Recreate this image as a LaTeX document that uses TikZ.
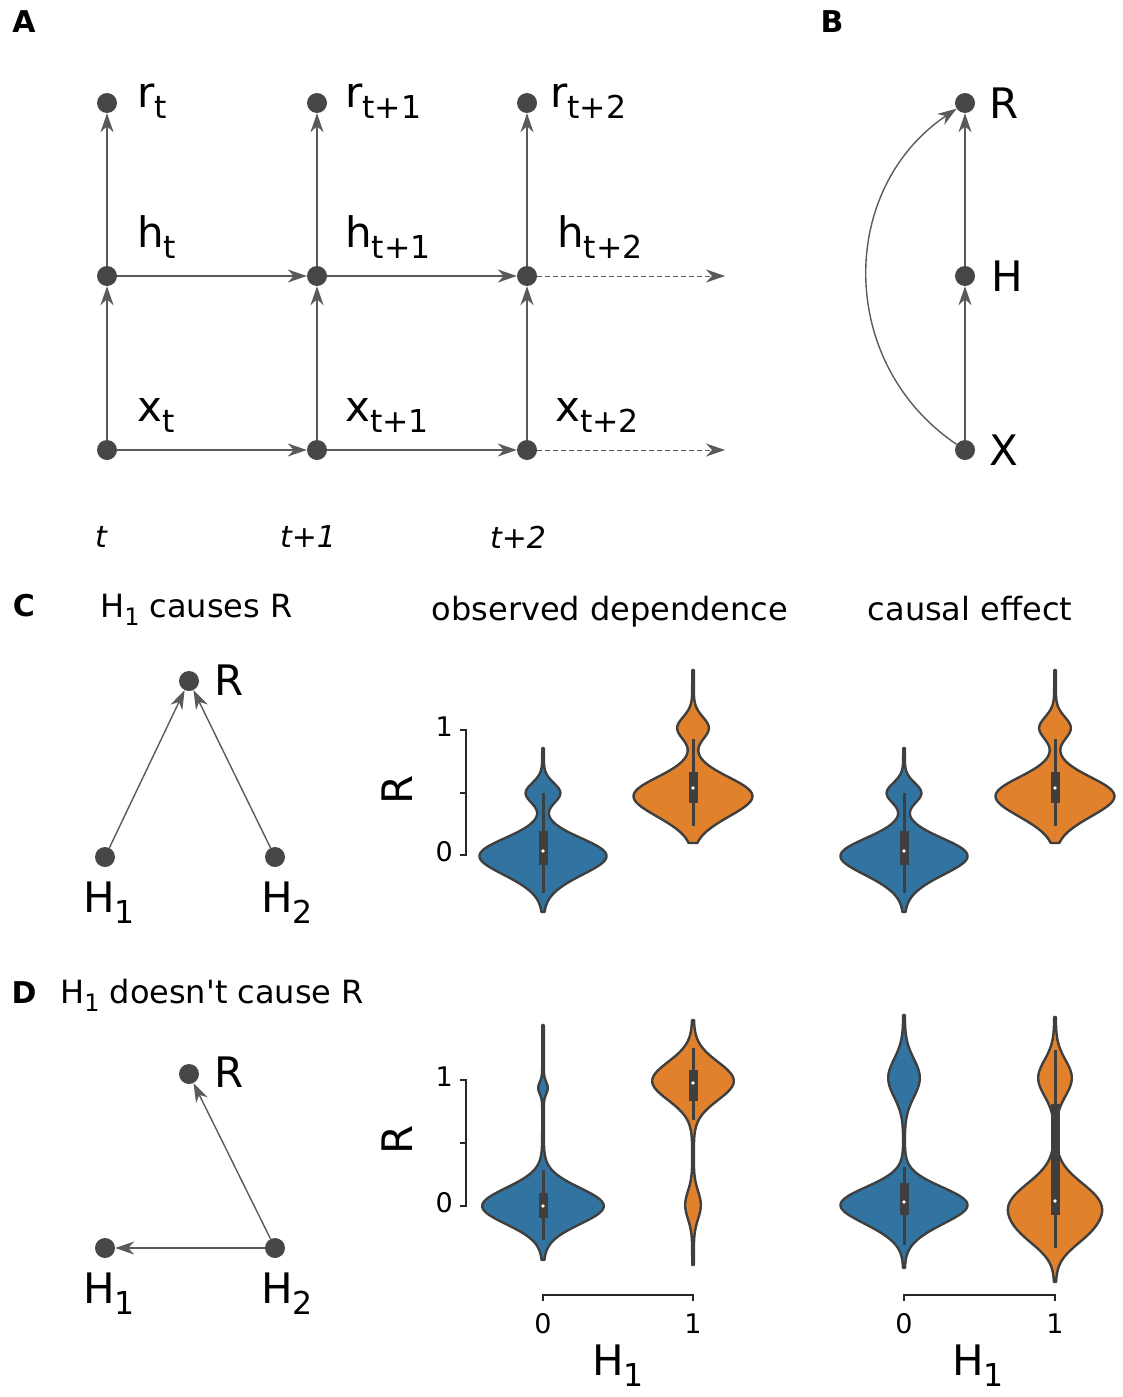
\documentclass[tikz,border=0pt]{standalone}
\usepackage{fontspec}
\setmainfont{DejaVu Sans}
\usepackage{graphicx}
\usetikzlibrary{arrows.meta, positioning}

\definecolor{dotgray}{HTML}{474747}
\definecolor{edgegray}{HTML}{5A5A5A}
\definecolor{vblue}{HTML}{3274A1}
\definecolor{vorange}{HTML}{E1812C}
\definecolor{vgray}{HTML}{3F3F3F}

% lowered, smaller index for the variable names
\newcommand{\lowsub}[1]{\raisebox{-0.28em}{\scalebox{0.75}{#1}}}

% gaussian bump used for the violin outlines
\pgfmathdeclarefunction{bump}{3}{\pgfmathparse{exp(max(-25,-0.5*((#1-#2)/#3)^2))}}

% violin: centre x, fill, top y, bottom y, half width (in \t)
\newcommand{\violin}[5]{%
  \draw[violinline, fill=#2]
    plot[domain=#3:#4, samples=140, variable=\t] ({#1+0.8+(#5)}, \t)
    -- plot[domain=#4:#3, samples=140, variable=\t] ({#1-0.8-(#5)}, \t) -- cycle;}

% inner box: centre x, whisker top, box top, median, box bottom, whisker bottom
\newcommand{\violinbox}[6]{%
  \draw[vgray, line width=3pt] (#1,#2) -- (#1,#6);
  \fill[vgray] ({#1-4.5},#3) rectangle ({#1+4.5},#5);
  \fill[white] (#1,#4) circle (1.8pt);}

\begin{document}
\begin{tikzpicture}[
    x=1pt, y=-1pt,
    dot/.style={circle, fill=dotgray, inner sep=0pt, minimum size=20pt},
    edge/.style={-{Stealth[length=19pt, width=13pt, inset=6pt]}, draw=edgegray, line width=1.4pt},
    dashedge/.style={edge, line width=1pt, dash pattern=on 5pt off 3pt},
    var/.style={font=\fontsize{42}{50}\selectfont, inner sep=0pt},
    panel/.style={font=\fontsize{30}{36}\selectfont\bfseries, inner sep=0pt},
    title/.style={font=\fontsize{32}{38}\selectfont, inner sep=0pt},
    timelbl/.style={font=\fontsize{30}{36}\selectfont\itshape, inner sep=0pt},
    tick/.style={font=\fontsize{27}{32}\selectfont, inner sep=0pt},
    axislbl/.style={font=\fontsize{42}{50}\selectfont, inner sep=0pt},
    axisline/.style={draw=black!85, line width=1.3pt},
    violinline/.style={draw=vgray, line width=2.4pt, line join=round}
]
\useasboundingbox (0,0) rectangle (1122,1397);

% ============ PANEL A ============
\node[panel] (lblA) at (24,22) {A};

\node[dot] (xt)  at (107,450) {};
\node[dot] (ht)  at (107,276) {};
\node[dot] (rt)  at (107,103) {};
\node[dot] (xt1) at (317,450) {};
\node[dot] (ht1) at (317,276) {};
\node[dot] (rt1) at (317,103) {};
\node[dot] (xt2) at (527,450) {};
\node[dot] (ht2) at (527,276) {};
\node[dot] (rt2) at (527,103) {};
\coordinate (xend) at (725,450);
\coordinate (hend) at (725,276);

\node[var, anchor=base west] (rtlbl)  at (137,107) {r\lowsub{t}};
\node[var, anchor=base west] (htlbl)  at (137,247) {h\lowsub{t}};
\node[var, anchor=base west] (xtlbl)  at (137,421) {x\lowsub{t}};
\node[var, anchor=base west] (rt1lbl) at (345,107) {r\lowsub{t+1}};
\node[var, anchor=base west] (ht1lbl) at (345,247) {h\lowsub{t+1}};
\node[var, anchor=base west] (xt1lbl) at (345,421) {x\lowsub{t+1}};
\node[var, anchor=base west] (rt2lbl) at (550,107) {r\lowsub{t+2}};
\node[var, anchor=base west] (ht2lbl) at (557,247) {h\lowsub{t+2}};
\node[var, anchor=base west] (xt2lbl) at (555,421) {x\lowsub{t+2}};

\node[timelbl] (time0) at (101,537) {t};
\node[timelbl] (time1) at (308,537) {t+1};
\node[timelbl] (time2) at (518,537) {t+2};

% vertical links
\draw[edge] (xt) -- (ht);
\draw[edge] (ht) -- (rt);
\draw[edge] (xt1) -- (ht1);
\draw[edge] (ht1) -- (rt1);
\draw[edge] (xt2) -- (ht2);
\draw[edge] (ht2) -- (rt2);
% links in time
\draw[edge] (xt) -- (xt1);
\draw[edge] (xt1) -- (xt2);
\draw[edge] (ht) -- (ht1);
\draw[edge] (ht1) -- (ht2);
\draw[dashedge] (xt2) -- (xend);
\draw[dashedge] (ht2) -- (hend);

% ============ PANEL B ============
\node[panel] (lblB) at (832,22) {B};

\node[dot] (Rb) at (965,103) {};
\node[dot] (Hb) at (965,276) {};
\node[dot] (Xb) at (965,450) {};
\node[var, anchor=west] (Rblbl) at (989,103) {R};
\node[var, anchor=west] (Hblbl) at (991,276) {H};
\node[var, anchor=west] (Xblbl) at (989,450) {X};

\draw[edge] (Xb) -- (Hb);
\draw[edge] (Hb) -- (Rb);
\draw[edge] (Xb) to[bend left=56, looseness=1.1] (Rb);

% ============ PANEL C ============
\node[panel] (lblC) at (24,606) {C};
\node[title, anchor=base west] (titleC) at (100,617) {H\lowsub{1} causes R};

\node[dot] (Rc)  at (189,681) {};
\node[dot] (H1c) at (105,857) {};
\node[dot] (H2c) at (275,857) {};
\node[var, anchor=west] (Rclbl) at (214,680) {R};
\node[var, anchor=base west] (H1clbl) at (83,912) {H\lowsub{1}};
\node[var, anchor=base west] (H2clbl) at (261,912) {H\lowsub{2}};

\draw[edge] (H1c) -- (Rc);
\draw[edge] (H2c) -- (Rc);

\node[title, anchor=base] (obsC)   at (610,620) {observed dependence};
\node[title, anchor=base] (causeC) at (970,620) {causal effect};

% observed dependence
\draw[axisline] (460,730) -- (466,730) -- (466,855) -- (460,855);
\draw[axisline] (460,793) -- (466,793);
\node[tick, anchor=east] (tickC1) at (453,727) {1};
\node[tick, anchor=east] (tickC0) at (453,852) {0};
\node[axislbl, rotate=90] (axisRc) at (397,790) {R};

\violin{543}{vblue}{748}{912}{61*bump(\t,855,17)+8*bump(\t,880,14)+16.5*bump(\t,793,10)}
\violinbox{543}{793}{831}{851}{865}{893}
\violin{693}{vorange}{670}{843}{57*bump(\t,795,18)+7.5*bump(\t,820,14)+15*bump(\t,728,11)}
\violinbox{693}{739}{772}{788}{803}{826}

% causal effect
\violin{904}{vblue}{748}{912}{61*bump(\t,855,17)+8*bump(\t,880,14)+16.5*bump(\t,793,10)}
\violinbox{904}{793}{831}{851}{865}{893}
\violin{1055}{vorange}{670}{843}{57*bump(\t,795,18)+7.5*bump(\t,820,14)+15*bump(\t,728,11)}
\violinbox{1055}{739}{772}{788}{803}{826}

% ============ PANEL D ============
\node[panel] (lblD) at (24,993) {D};
\node[title, anchor=base west] (titleD) at (60,1003) {H\lowsub{1} doesn\textquotesingle t cause R};

\node[dot] (Rd)  at (189,1074) {};
\node[dot] (H1d) at (105,1248) {};
\node[dot] (H2d) at (275,1248) {};
\node[var, anchor=west] (Rdlbl) at (214,1072) {R};
\node[var, anchor=base west] (H1dlbl) at (83,1303) {H\lowsub{1}};
\node[var, anchor=base west] (H2dlbl) at (261,1303) {H\lowsub{2}};

\draw[edge] (H2d) -- (H1d);
\draw[edge] (H2d) -- (Rd);

% observed dependence
\draw[axisline] (460,1080) -- (466,1080) -- (466,1206) -- (460,1206);
\draw[axisline] (460,1143) -- (466,1143);
\node[tick, anchor=east] (tickD1) at (453,1077) {1};
\node[tick, anchor=east] (tickD0) at (453,1203) {0};
\node[axislbl, rotate=90] (axisRd) at (397,1140) {R};

\violin{543}{vblue}{1025}{1260}{60*bump(\t,1206,18)+4*bump(\t,1088,6)}
\violinbox{543}{1170}{1193}{1206}{1218}{1240}
\violin{693}{vorange}{1020}{1265}{40*bump(\t,1081,19)+7*bump(\t,1205,14)}
\violinbox{693}{1048}{1070}{1083}{1101}{1120}

\draw[axisline] (543,1301) -- (543,1295) -- (693,1295) -- (693,1301);
\node[tick] (tickDa0) at (543,1324) {0};
\node[tick] (tickDa1) at (693,1324) {1};
\node[axislbl, anchor=base] (axisH1a) at (618,1375) {H\lowsub{1}};

% causal effect
\violin{904}{vblue}{1015}{1268}{61*bump(\t,1204,17)+8*bump(\t,1229,14)+15*bump(\t,1078,19)}
\violinbox{904}{1167}{1183}{1202}{1215}{1245}
\violin{1055}{vorange}{1017}{1282}{43*bump(\t,1205,22)+15*bump(\t,1235,16)+16*bump(\t,1078,18)}
\violinbox{1055}{1050}{1104}{1201}{1215}{1248}

\draw[axisline] (904,1301) -- (904,1295) -- (1055,1295) -- (1055,1301);
\node[tick] (tickDb0) at (904,1324) {0};
\node[tick] (tickDb1) at (1055,1324) {1};
\node[axislbl, anchor=base] (axisH1b) at (978,1375) {H\lowsub{1}};

\end{tikzpicture}
\end{document}
